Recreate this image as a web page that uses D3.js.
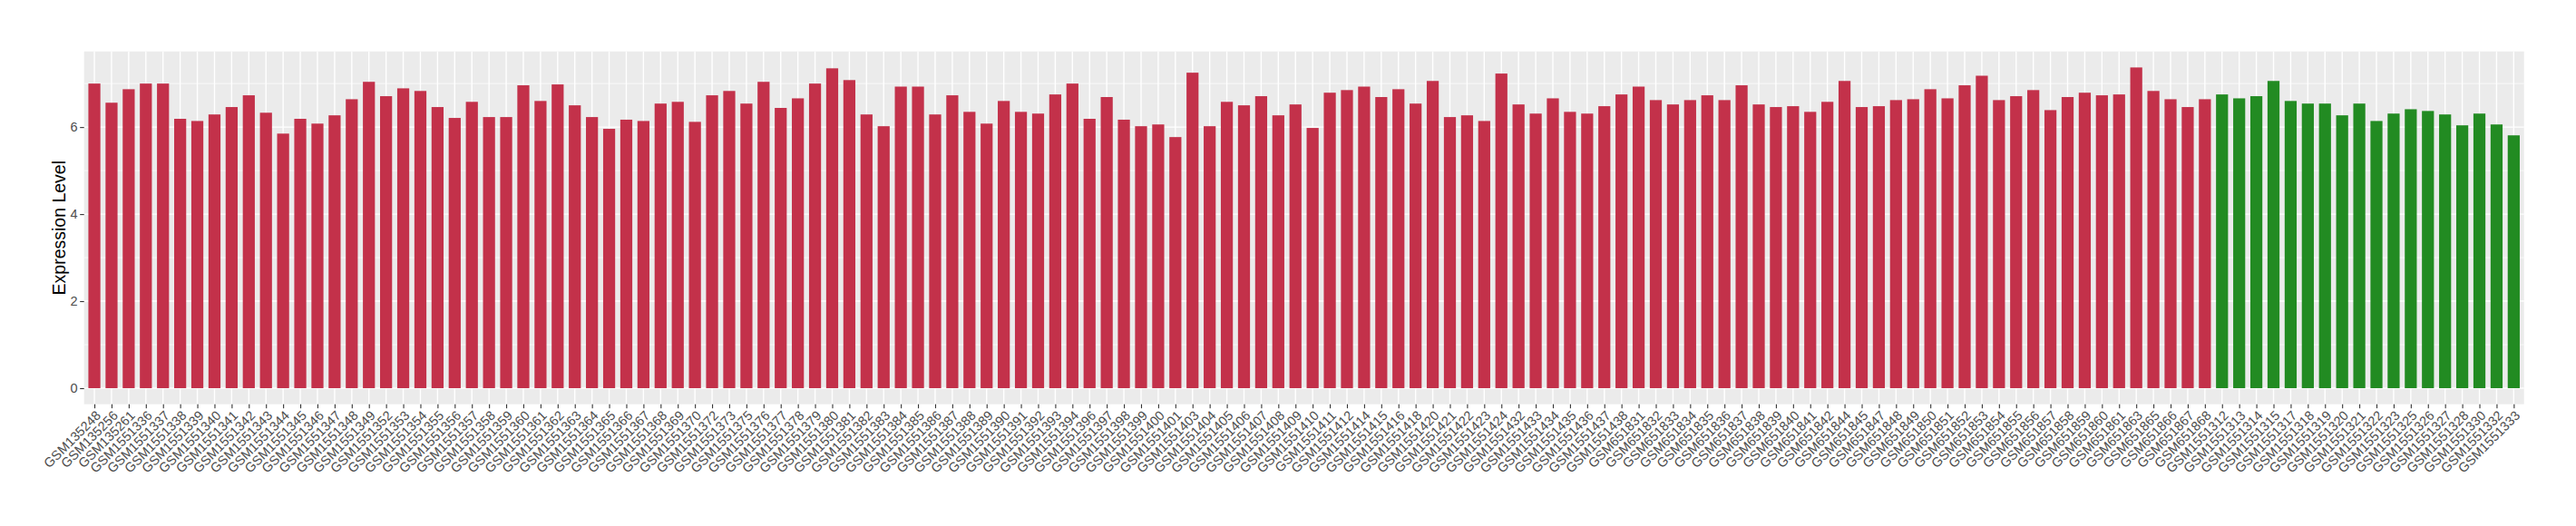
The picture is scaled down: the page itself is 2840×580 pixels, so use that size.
<!DOCTYPE html>
<html lang="en">
    <head>
        <meta charset="utf-8">
        <title>Expression Level</title>
        <script src="https://d3js.org/d3.v7.min.js"></script>
        <style type="text/css">
            body { margin: 0; background: #fff; }
            text { font-family: "Liberation Sans", Arial, Helvetica, sans-serif; }
        </style>
    </head>
    <body>
        <script type="text/javascript">

            // red group samples and their values
            var group1Samples = ["GSM135248","GSM135256","GSM135261",
                "GSM1551336","GSM1551337","GSM1551338","GSM1551339","GSM1551340","GSM1551341","GSM1551342",
                "GSM1551343","GSM1551344","GSM1551345","GSM1551346","GSM1551347","GSM1551348","GSM1551349",
                "GSM1551352","GSM1551353","GSM1551354","GSM1551355","GSM1551356","GSM1551357","GSM1551358",
                "GSM1551359","GSM1551360","GSM1551361","GSM1551362","GSM1551363","GSM1551364","GSM1551365",
                "GSM1551366","GSM1551367","GSM1551368","GSM1551369","GSM1551370","GSM1551372","GSM1551373",
                "GSM1551375","GSM1551376","GSM1551377","GSM1551378","GSM1551379","GSM1551380","GSM1551381",
                "GSM1551382","GSM1551383","GSM1551384","GSM1551385","GSM1551386","GSM1551387","GSM1551388",
                "GSM1551389","GSM1551390","GSM1551391","GSM1551392","GSM1551393","GSM1551394","GSM1551396",
                "GSM1551397","GSM1551398","GSM1551399","GSM1551400","GSM1551401","GSM1551403","GSM1551404",
                "GSM1551405","GSM1551406","GSM1551407","GSM1551408","GSM1551409","GSM1551410","GSM1551411",
                "GSM1551412","GSM1551414","GSM1551415","GSM1551416","GSM1551418","GSM1551420","GSM1551421",
                "GSM1551422","GSM1551423","GSM1551424","GSM1551432","GSM1551433","GSM1551434","GSM1551435",
                "GSM1551436","GSM1551437","GSM1551438",
                "GSM651831","GSM651832","GSM651833","GSM651834","GSM651835","GSM651836","GSM651837",
                "GSM651838","GSM651839","GSM651840","GSM651841","GSM651842","GSM651844","GSM651845",
                "GSM651847","GSM651848","GSM651849","GSM651850","GSM651851","GSM651852","GSM651853",
                "GSM651854","GSM651855","GSM651856","GSM651857","GSM651858","GSM651859","GSM651860",
                "GSM651861","GSM651863","GSM651865","GSM651866","GSM651867","GSM651868"];
            var group1Values = [7.00,6.56,6.87,
                7.00,7.00,6.19,6.14,6.29,6.46,6.73,
                6.33,5.85,6.19,6.08,6.27,6.64,7.04,
                6.71,6.89,6.83,6.46,6.21,6.58,6.23,
                6.23,6.96,6.60,6.98,6.50,6.23,5.96,
                6.17,6.14,6.54,6.58,6.12,6.73,6.83,
                6.54,7.04,6.44,6.66,7.00,7.35,7.08,
                6.29,6.02,6.93,6.93,6.29,6.73,6.35,
                6.08,6.60,6.35,6.31,6.75,7.00,6.19,
                6.69,6.17,6.02,6.06,5.77,7.25,6.02,
                6.58,6.50,6.71,6.27,6.52,5.98,6.79,
                6.85,6.93,6.69,6.87,6.54,7.06,6.23,
                6.27,6.14,7.23,6.52,6.31,6.66,6.35,
                6.31,6.48,6.75,
                6.93,6.62,6.52,6.62,6.73,6.62,6.96,
                6.52,6.46,6.48,6.35,6.58,7.06,6.46,
                6.48,6.62,6.64,6.87,6.66,6.96,7.18,
                6.62,6.71,6.85,6.39,6.69,6.79,6.73,
                6.75,7.37,6.83,6.64,6.46,6.64];

            // green group samples and their values
            var group2Samples = ["GSM1551312","GSM1551313","GSM1551314","GSM1551315","GSM1551317","GSM1551318",
                "GSM1551319","GSM1551320","GSM1551321","GSM1551322","GSM1551323","GSM1551325","GSM1551326",
                "GSM1551327","GSM1551328","GSM1551330","GSM1551332","GSM1551333"];
            var group2Values = [6.75,6.66,6.71,7.06,6.60,6.54,
                6.54,6.27,6.54,6.14,6.31,6.41,6.37,
                6.29,6.04,6.31,6.06,5.81];

            var yTicks = [0, 2, 4, 6];
            var yMinorTicks = [1, 3, 5, 7];

            var group1Color = "#C3314A",
                group2Color = "#228B22";

            // join both groups into one list for drawing
            var data = group1Samples.map(function(s, i) { return {sample: s, value: group1Values[i], color: group1Color}; })
                .concat(group2Samples.map(function(s, i) { return {sample: s, value: group2Values[i], color: group2Color}; }));

            // panel position inside the page
            var svgWidth = 2840, svgHeight = 580;
            var panel = {left: 92.7, right: 2782.7, top: 56.7, bottom: 445.7};

            var svg = d3.select("body").append("svg")
                .attr("width", svgWidth)
                .attr("height", svgHeight);

            // x: one slot per sample, 0.6 slot of padding at both ends like ggplot
            var xScale = d3.scalePoint()
                .domain(data.map(function(d) { return d.sample; }))
                .range([panel.left, panel.right])
                .padding(0.6);
            var barWidth = xScale.step() * 0.7;

            // y: 5% expansion on both sides
            var yMax = d3.max(data, function(d) { return d.value; });
            var yScale = d3.scaleLinear()
                .domain([-0.05 * yMax, yMax * 1.05])
                .range([panel.bottom, panel.top]);

            // grey panel background
            svg.append("rect")
                .attr("x", panel.left)
                .attr("y", panel.top)
                .attr("width", panel.right - panel.left)
                .attr("height", panel.bottom - panel.top)
                .style("fill", "#EBEBEB");

            // grid lines
            svg.append("g").selectAll("line")
                .data(yMinorTicks)
                .enter().append("line")
                .attr("x1", panel.left).attr("x2", panel.right)
                .attr("y1", function(d) { return yScale(d); })
                .attr("y2", function(d) { return yScale(d); })
                .style("stroke", "#fff").style("stroke-width", 0.7);

            svg.append("g").selectAll("line")
                .data(yTicks)
                .enter().append("line")
                .attr("x1", panel.left).attr("x2", panel.right)
                .attr("y1", function(d) { return yScale(d); })
                .attr("y2", function(d) { return yScale(d); })
                .style("stroke", "#fff").style("stroke-width", 1.4);

            svg.append("g").selectAll("line")
                .data(data)
                .enter().append("line")
                .attr("x1", function(d) { return xScale(d.sample); })
                .attr("x2", function(d) { return xScale(d.sample); })
                .attr("y1", panel.top).attr("y2", panel.bottom)
                .style("stroke", "#fff").style("stroke-width", 1.4);

            // bars
            svg.append("g").selectAll("rect")
                .data(data)
                .enter().append("rect")
                .attr("x", function(d) { return xScale(d.sample) - barWidth / 2; })
                .attr("y", function(d) { return yScale(d.value); })
                .attr("width", barWidth)
                .attr("height", function(d) { return yScale(0) - yScale(d.value); })
                .style("fill", function(d) { return d.color; });

            // x axis, labels at 45 degrees ending under their tick
            var xAxis = d3.axisBottom(xScale).tickSize(4.5).tickPadding(1.5);
            var gx = svg.append("g")
                .attr("transform", "translate(0," + panel.bottom + ")")
                .call(xAxis);
            gx.select(".domain").remove();
            gx.selectAll(".tick line").style("stroke", "#333333").style("stroke-width", 1.1);
            gx.selectAll(".tick text")
                .style("font-size", "14.5px")
                .style("fill", "#4D4D4D")
                .attr("text-anchor", "end")
                .attr("dy", "0.72em")
                .attr("transform", function() {
                    var y = +d3.select(this).attr("y");
                    return "rotate(-45,0," + y + ")";
                });

            // y axis
            var yAxis = d3.axisLeft(yScale).tickValues(yTicks).tickSize(4.5).tickPadding(2.5);
            var gy = svg.append("g")
                .attr("transform", "translate(" + panel.left + ",0)")
                .call(yAxis);
            gy.select(".domain").remove();
            gy.selectAll(".tick line").style("stroke", "#333333").style("stroke-width", 1.1);
            gy.selectAll(".tick text")
                .style("font-size", "14.5px")
                .style("fill", "#4D4D4D");

            // y axis title
            svg.append("text")
                .attr("transform", "translate(65," + ((panel.top + panel.bottom) / 2) + ") rotate(-90)")
                .attr("text-anchor", "middle")
                .attr("dy", "0.35em")
                .style("font-size", "19.5px")
                .style("fill", "#000")
                .text("Expression Level");
        </script>
    </body>
</html>
